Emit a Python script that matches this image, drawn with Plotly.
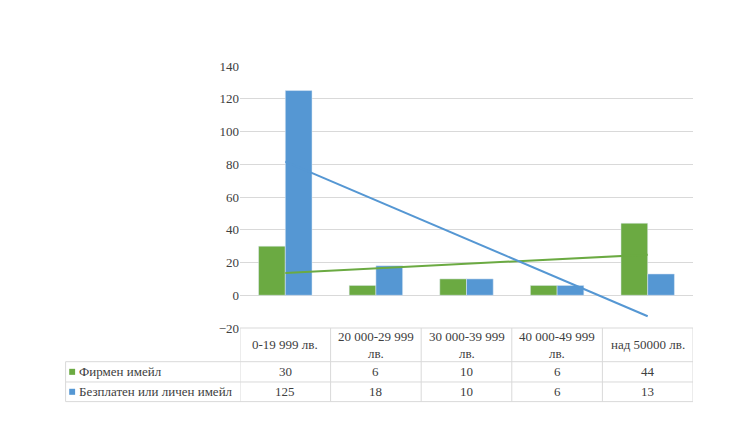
import numpy as np
import plotly.graph_objects as go

categories = ["0-19 999 лв.", "20 000-29 999<br>лв.", "30 000-39 999<br>лв.",
              "40 000-49 999<br>лв.", "над 50000 лв."]
series_names = ["Фирмен имейл", "Безплатен или личен имейл"]
firmen = [30, 6, 10, 6, 44]
bezplaten = [125, 18, 10, 6, 13]
y_ticks = [-20, 0, 20, 40, 60, 80, 100, 120, 140]

green = "#6BAA42"
blue = "#5597D3"
grid = "#D9D9D9"
font = "'Liberation Serif', 'DejaVu Serif', 'Times New Roman', serif"
txt = "#404040"

x = np.arange(len(categories))

fig = go.Figure()
fig.add_trace(go.Bar(x=x, y=firmen, name=series_names[0], marker_color=green))
fig.add_trace(go.Bar(x=x, y=bezplaten, name=series_names[1], marker_color=blue))

# linear trend lines, like excel
for vals, col in [(firmen, green), (bezplaten, blue)]:
    k, b = np.polyfit(x, vals, 1)
    fig.add_trace(go.Scatter(x=[x[0], x[-1]], y=[k * x[0] + b, k * x[-1] + b],
                             mode="lines", line=dict(color=col, width=2),
                             showlegend=False, hoverinfo="skip"))

# data table under the plot
row_y = [0, -0.1286, -0.206, -0.281]
left = -0.385
shapes = []
shapes.append(dict(type="line", xref="x", yref="paper", x0=-0.5, x1=4.5, y0=0, y1=0,
                   line=dict(color=grid, width=1)))
for yy in row_y[1:]:
    shapes.append(dict(type="line", xref="paper", yref="paper", x0=left, x1=1, y0=yy, y1=yy,
                       line=dict(color=grid, width=1)))
for i in range(len(categories) + 1):
    shapes.append(dict(type="line", xref="x", yref="paper", x0=i - 0.5, x1=i - 0.5,
                       y0=0, y1=row_y[-1], line=dict(color=grid, width=1)))
shapes.append(dict(type="line", xref="paper", yref="paper", x0=left, x1=left,
                   y0=row_y[1], y1=row_y[-1], line=dict(color=grid, width=1)))

annotations = []
for i, c in enumerate(categories):
    annotations.append(dict(x=i, y=(row_y[0] + row_y[1]) / 2, xref="x", yref="paper",
                            yanchor="middle", text=c, showarrow=False))
for r, (name, vals, col) in enumerate([(series_names[0], firmen, green),
                                        (series_names[1], bezplaten, blue)]):
    yc = (row_y[r + 1] + row_y[r + 2]) / 2
    for i, v in enumerate(vals):
        annotations.append(dict(x=i, y=yc, xref="x", yref="paper", text=str(v),
                                yanchor="middle", showarrow=False))
    annotations.append(dict(x=left + 0.026, y=yc, xref="paper", yref="paper", text=name,
                            xanchor="left", yanchor="middle", showarrow=False))
    shapes.append(dict(type="rect", xref="paper", yref="paper",
                       x0=left + 0.008, x1=left + 0.021, y0=yc - 0.0115, y1=yc + 0.0115,
                       fillcolor=col, line=dict(width=0)))

# page has an 8px body margin, so shrink the figure by that much
fig.update_layout(
    width=722, height=417,
    margin=dict(l=232, r=37, t=58, b=97),
    paper_bgcolor="white", plot_bgcolor="white",
    barmode="group", bargap=0.41, bargroupgap=0,
    showlegend=False,
    font=dict(family=font, size=13, color=txt),
    shapes=shapes, annotations=annotations,
)
fig.update_xaxes(range=[-0.5, 4.5], showticklabels=False, showgrid=False,
                 zeroline=False, showline=False)
fig.update_yaxes(range=[-20, 140], tickvals=y_ticks, gridcolor=grid, zeroline=True,
                 zerolinecolor=grid, zerolinewidth=1, showline=False, ticks="",
                 tickfont=dict(family=font, size=13, color=txt))

fig.write_html("out.html")
